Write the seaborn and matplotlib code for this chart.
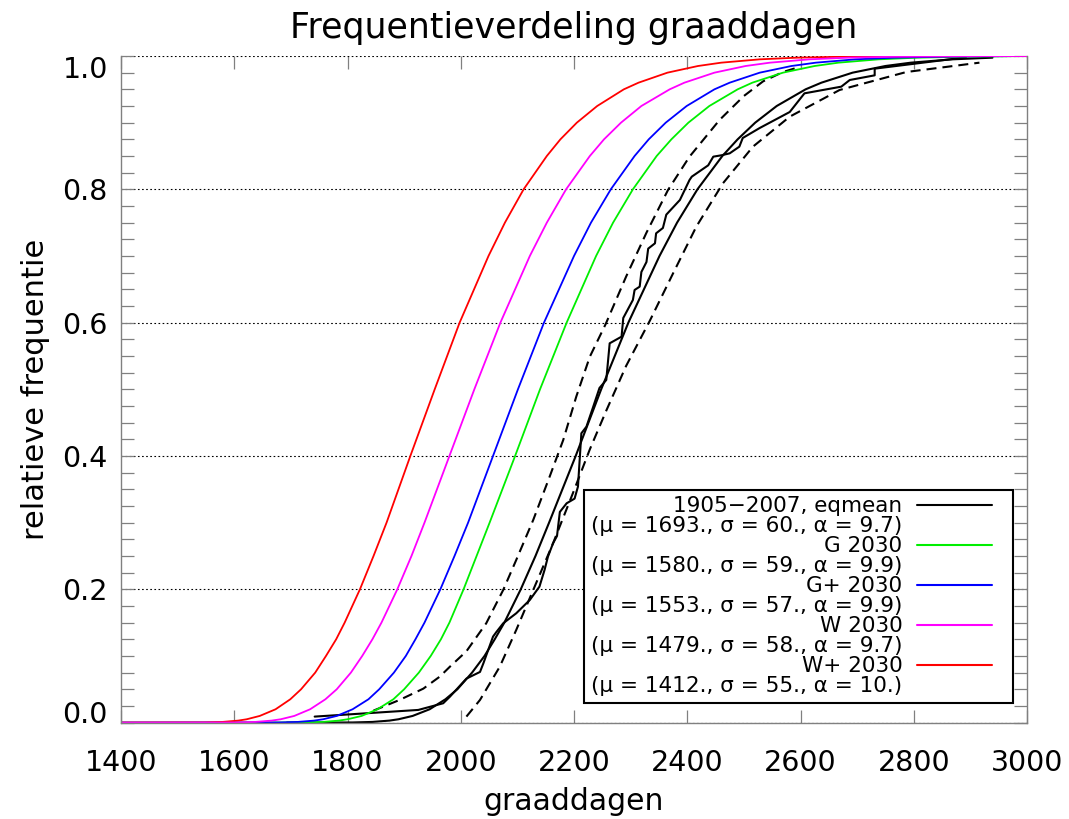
import matplotlib
matplotlib.use("Agg")
import matplotlib.pyplot as plt
import seaborn as sns
from matplotlib.lines import Line2D
from matplotlib.legend_handler import HandlerLine2D
from matplotlib.ticker import MultipleLocator, FixedLocator

# ---------------- data ----------------
cdf_levels = [0.0, 0.0002, 0.001, 0.003, 0.005, 0.01, 0.02, 0.035, 0.05, 0.075,
              0.1, 0.125, 0.15, 0.2, 0.25, 0.3, 0.4, 0.5, 0.6, 0.7, 0.75, 0.8,
              0.85, 0.875, 0.9, 0.925, 0.95, 0.96, 0.975, 0.985, 0.99, 0.995,
              0.9975, 0.999, 0.9995, 1.0]

g2030_x = [1400, 1722, 1756, 1785, 1800, 1825, 1853, 1881, 1900, 1926,
           1947, 1965, 1980, 2005, 2028, 2051, 2096, 2140, 2187, 2239, 2269, 2304,
           2346, 2372, 2402, 2439, 2489, 2515, 2569, 2625, 2667, 2738,
           2807, 2894, 2959, 3000]
gplus2030_x = [1400, 1678, 1712, 1741, 1757, 1781, 1809, 1837, 1856, 1882,
               1903, 1920, 1936, 1964, 1989, 2013, 2057, 2101, 2147, 2200, 2230, 2265,
               2307, 2332, 2362, 2399, 2448, 2475, 2528, 2584, 2627, 2697,
               2766, 2853, 2917, 3000]
w2030_x = [1400, 1604, 1637, 1666, 1682, 1706, 1734, 1761, 1781, 1806,
           1826, 1844, 1860, 1888, 1913, 1936, 1980, 2024, 2070, 2122, 2152, 2186,
           2228, 2253, 2283, 2319, 2369, 2395, 2448, 2503, 2546, 2616,
           2684, 2770, 2834, 3000]
wplus2030_x = [1400, 1547, 1579, 1607, 1622, 1645, 1673, 1699, 1718, 1743,
               1762, 1780, 1795, 1822, 1846, 1869, 1911, 1954, 1998, 2049, 2078, 2111,
               2152, 2176, 2205, 2241, 2288, 2314, 2365, 2419, 2460, 2528,
               2594, 2678, 2740, 3000]

# fitted distribution 1905-2007
fit_x = [1693, 1809, 1844, 1874, 1890, 1915, 1945, 1973, 1994, 2020,
         2042, 2060, 2077, 2106, 2132, 2156, 2203, 2248, 2296, 2351, 2382, 2418,
         2462, 2489, 2520, 2558, 2609, 2637, 2692, 2750, 2795, 2868, 2939]
fit_y = [0.0, 0.0002, 0.001, 0.003, 0.005, 0.01, 0.02, 0.035, 0.05, 0.075,
         0.1, 0.125, 0.15, 0.2, 0.25, 0.3, 0.4, 0.5, 0.6, 0.7, 0.75, 0.8,
         0.85, 0.875, 0.9, 0.925, 0.95, 0.96, 0.975, 0.985, 0.99, 0.995, 0.9975]

# empirical cumulative frequency 1905-2007
obs_x = [1742, 1925, 1969, 1981, 2010, 2034, 2040, 2057, 2063, 2075, 2098,
         2122, 2139, 2148, 2154, 2163, 2170, 2175, 2187, 2201, 2207, 2213,
         2222, 2234, 2245, 2257, 2263, 2284, 2287, 2304, 2307, 2316, 2319,
         2328, 2331, 2343, 2345, 2357, 2363, 2387, 2404, 2408, 2437, 2446,
         2460, 2475, 2492, 2498, 2516, 2528, 2581, 2607, 2672, 2687, 2731,
         2731, 2892]
obs_y = [0.009, 0.019, 0.029, 0.039, 0.066, 0.076, 0.089, 0.129, 0.136, 0.149,
         0.164, 0.184, 0.204, 0.229, 0.249, 0.269, 0.280, 0.316, 0.329, 0.336,
         0.354, 0.434, 0.444, 0.474, 0.502, 0.514, 0.569, 0.579, 0.607, 0.634,
         0.649, 0.654, 0.676, 0.691, 0.711, 0.719, 0.734, 0.742, 0.762, 0.784,
         0.814, 0.819, 0.836, 0.849, 0.851, 0.854, 0.864, 0.877, 0.886, 0.892,
         0.916, 0.944, 0.954, 0.964, 0.971, 0.981, 0.998]

# dashed bands
band_hi_x = [1846, 1892, 1934, 1963, 1981, 2010, 2045, 2075, 2098, 2128, 2157,
             2181, 2204, 2228, 2256, 2292, 2328, 2366, 2404, 2457, 2500, 2534,
             2569, 2600]
band_hi_y = [0.018, 0.034, 0.051, 0.069, 0.084, 0.107, 0.149, 0.199, 0.244,
             0.304, 0.369, 0.424, 0.489, 0.549, 0.598, 0.669, 0.735, 0.799,
             0.849, 0.904, 0.940, 0.962, 0.976, 0.984]
band_lo_x = [2010, 2034, 2069, 2098, 2128, 2163, 2198, 2228, 2257, 2292, 2334,
             2375, 2416, 2463, 2516, 2581, 2669, 2787, 2916]
band_lo_y = [0.009, 0.034, 0.084, 0.139, 0.199, 0.269, 0.344, 0.410, 0.468,
             0.535, 0.603, 0.674, 0.744, 0.809, 0.864, 0.909, 0.949, 0.976,
             0.990]

series_names = ["1905\u22122007, eqmean", "G 2030", "G+ 2030", "W 2030", "W+ 2030"]
series_params = ["(\u03bc = 1693., \u03c3 = 60., \u03b1 = 9.7)",
                 "(\u03bc = 1580., \u03c3 = 59., \u03b1 = 9.9)",
                 "(\u03bc = 1553., \u03c3 = 57., \u03b1 = 9.9)",
                 "(\u03bc = 1479., \u03c3 = 58., \u03b1 = 9.7)",
                 "(\u03bc = 1412., \u03c3 = 55., \u03b1 = 10.)"]
series_colors = ["black", "#00ee00", "#0000ff", "#ff00ff", "#ff0000"]

x_ticks = [1400, 1600, 1800, 2000, 2200, 2400, 2600, 2800, 3000]
y_ticks = [0.0, 0.2, 0.4, 0.6, 0.8, 1.0]
y_ticklabels = ["0.0", "0.2", "0.4", "0.6", "0.8", "1.0"]

# ---------------- style ----------------
sns.set_style("ticks")
plt.rcParams["font.family"] = ["DejaVu Sans"]
plt.rcParams["text.color"] = "black"
plt.rcParams["axes.labelcolor"] = "black"
plt.rcParams["xtick.labelcolor"] = "black"
plt.rcParams["ytick.labelcolor"] = "black"

W, H = 1069, 819
fig = plt.figure(figsize=(W / 100, H / 100), dpi=100)
ax = fig.add_axes([121 / W, 1 - 722.6 / H, 906 / W, 666.6 / H])

dash = (0, (4.8, 2.9))
sns.lineplot(x=band_hi_x, y=band_hi_y, sort=False, estimator=None, ax=ax,
             color="black", linewidth=1.5, linestyle=dash)
sns.lineplot(x=band_lo_x, y=band_lo_y, sort=False, estimator=None, ax=ax,
             color="black", linewidth=1.5, linestyle=dash)
sns.lineplot(x=fit_x, y=fit_y, sort=False, estimator=None, ax=ax,
             color="black", linewidth=1.5)
sns.lineplot(x=obs_x, y=obs_y, sort=False, estimator=None, ax=ax,
             color="black", linewidth=1.5)

for xs, col in [(g2030_x, series_colors[1]), (gplus2030_x, series_colors[2]),
                (wplus2030_x, series_colors[4]), (w2030_x, series_colors[3])]:
    sns.lineplot(x=xs, y=cdf_levels, sort=False, estimator=None, ax=ax,
                 color=col, linewidth=1.3)

ax.set_xlim(1400, 3000)
ax.set_ylim(0, 1)
ax.xaxis.set_major_locator(FixedLocator(x_ticks))
ax.set_xticklabels([str(t) for t in x_ticks])
ax.yaxis.set_major_locator(FixedLocator(y_ticks))
ax.set_yticklabels(y_ticklabels)
ax.yaxis.set_minor_locator(MultipleLocator(0.025))

gray = "#808080"
for side in ["left", "right", "bottom"]:
    ax.spines[side].set_color(gray)
    ax.spines[side].set_linewidth(1.0)
ax.spines["top"].set_visible(False)

ax.tick_params(axis="x", which="major", direction="in", top=True, bottom=True,
               length=9.5, width=0.9, color=gray, labelsize=20.5, pad=19)
ax.tick_params(axis="y", which="both", direction="in", left=True, right=True,
               length=9.5, width=0.9, color=gray, labelsize=20.5, pad=9.5)

ax.grid(axis="y", which="major", color="black", linestyle=(0, (1.5, 2.2)),
        linewidth=0.8)
ax.grid(axis="x", visible=False)

ylabs = ax.get_yticklabels()
ylabs[0].set_va("baseline")
ylabs[-1].set_va("top")

ax.set_title("Frequentieverdeling graaddagen", fontsize=25, pad=13)
ax.set_xlabel("graaddagen", fontsize=21.5, labelpad=7)
ax.set_ylabel("relatieve frequentie", fontsize=22, labelpad=9)


class ShortLineHandler(HandlerLine2D):
    """Legend line that leaves some blank room on its right side."""
    def create_artists(self, legend, orig_handle, xdescent, ydescent, width,
                       height, fontsize, trans):
        return super().create_artists(legend, orig_handle, xdescent, ydescent,
                                      width * 0.84, height, fontsize, trans)


handles, labels = [], []
for name, par, col in zip(series_names, series_params, series_colors):
    handles.append(Line2D([], [], color=col, linewidth=1.5))
    labels.append(name)
    handles.append(Line2D([], [], color="none", linewidth=0))
    labels.append(par)

leg = ax.legend(handles, labels, loc="lower right",
                bbox_to_anchor=(0.9845, 0.030), borderaxespad=0,
                frameon=True, fancybox=False, edgecolor="black", framealpha=1,
                fontsize=15.5, markerfirst=False, handlelength=4.14,
                handletextpad=0.7, labelspacing=0.0, borderpad=0.3,
                handler_map={Line2D: ShortLineHandler()})
leg.get_frame().set_linewidth(1.5)

fig.savefig("out.png", dpi=100)
